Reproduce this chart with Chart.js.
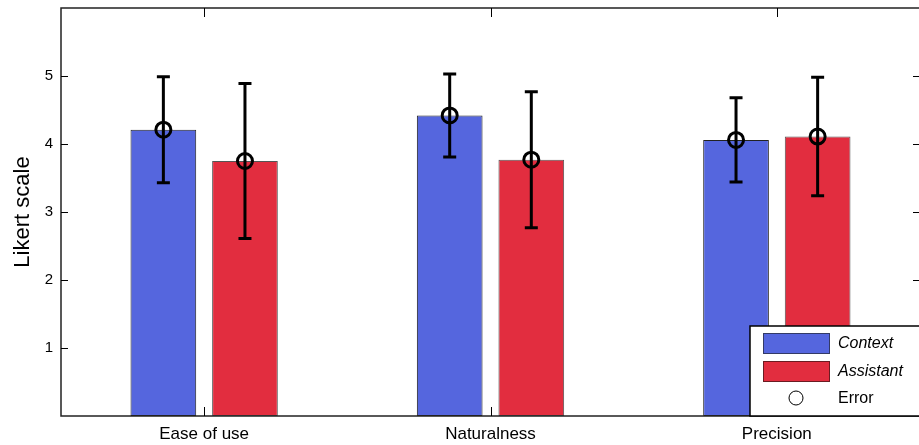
<!DOCTYPE html>
<html>
<head>
<meta charset="utf-8">
<script src="https://cdn.jsdelivr.net/npm/chart.js@4.4.1/dist/chart.umd.min.js"></script>
<style>
  html, body { margin: 0; padding: 0; background: #fff; overflow: hidden; }
  #wrap { width: 924px; height: 445px; }
</style>
</head>
<body>
<div id="wrap"><canvas id="likertChart" width="924" height="445"></canvas></div>
<script>
// ----------------------------
// DATA
// ----------------------------
const categories = ["Ease of use", "Naturalness", "Precision"];
const contextMeans = [4.21, 4.42, 4.06];
const contextErr = [0.78, 0.61, 0.62];
const assistantMeans = [3.75, 3.77, 4.11];
const assistantErr = [1.14, 1.0, 0.87];
const yTicks = [1, 2, 3, 4, 5];

const seriesNames = ["Context", "Assistant"];
const blue = "#5566de";
const red = "#e22d3f";
const fontFamily = "'Liberation Sans', Arial, sans-serif";

Chart.defaults.font.family = fontFamily;
Chart.defaults.color = "#111";

// ----------------------------
// PLUGIN: error bars, box, ticks, legend
// ----------------------------
const matlabLook = {
  id: "matlabLook",
  afterDatasetsDraw(chart) {
    const ctx = chart.ctx;
    const area = chart.chartArea;
    const yScale = chart.scales.y;
    const xScale = chart.scales.x;
    const errs = [contextErr, assistantErr];

    // error bars + circles
    ctx.save();
    ctx.strokeStyle = "#000";
    ctx.lineWidth = 3;
    chart.data.datasets.forEach((ds, di) => {
      const meta = chart.getDatasetMeta(di);
      meta.data.forEach((bar, i) => {
        const x = bar.x;
        const m = ds.data[i];
        const yTop = yScale.getPixelForValue(m + errs[di][i]);
        const yBot = yScale.getPixelForValue(m - errs[di][i]);
        const yMid = yScale.getPixelForValue(m);
        ctx.beginPath();
        ctx.moveTo(x, yTop);
        ctx.lineTo(x, yBot);
        ctx.moveTo(x - 6.5, yTop);
        ctx.lineTo(x + 6.5, yTop);
        ctx.moveTo(x - 6.5, yBot);
        ctx.lineTo(x + 6.5, yBot);
        ctx.stroke();
        ctx.beginPath();
        ctx.arc(x, yMid, 7.5, 0, Math.PI * 2);
        ctx.stroke();
      });
    });
    ctx.restore();

    // axes box
    ctx.save();
    ctx.strokeStyle = "#222";
    ctx.lineWidth = 1.5;
    ctx.strokeRect(area.left, area.top, area.right - area.left, area.bottom - area.top);

    // inward ticks
    ctx.lineWidth = 1;
    ctx.strokeStyle = "#000";
    ctx.beginPath();
    yTicks.forEach((v) => {
      const y = Math.round(yScale.getPixelForValue(v)) + 0.5;
      ctx.moveTo(area.left, y);
      ctx.lineTo(area.left + 7, y);
      ctx.moveTo(area.right, y);
      ctx.lineTo(area.right - 7, y);
    });
    categories.forEach((c, i) => {
      const x = Math.round(xScale.getPixelForValue(i)) + 0.5;
      ctx.moveTo(x, area.bottom);
      ctx.lineTo(x, area.bottom - 9);
      ctx.moveTo(x, area.top);
      ctx.lineTo(x, area.top + 9);
    });
    ctx.stroke();
    ctx.restore();

    // legend box
    ctx.save();
    const lx = 750, ly = 326;
    ctx.fillStyle = "#fff";
    ctx.fillRect(lx, ly, area.right - lx, area.bottom - ly);
    ctx.strokeStyle = "#000";
    ctx.lineWidth = 1.5;
    ctx.strokeRect(lx, ly, area.right - lx, area.bottom - ly);

    const swatches = [
      { fill: blue, stroke: "#333a66" },
      { fill: red, stroke: "#6a1c22" },
    ];
    ctx.font = "italic 16px " + fontFamily;
    ctx.textBaseline = "middle";
    ctx.textAlign = "left";
    swatches.forEach((s, i) => {
      const y = 333 + i * 28;
      ctx.fillStyle = s.fill;
      ctx.fillRect(763.5, y + 0.5, 66, 20);
      ctx.strokeStyle = s.stroke;
      ctx.lineWidth = 1;
      ctx.strokeRect(763.5, y + 0.5, 66, 20);
      ctx.fillStyle = "#000";
      ctx.fillText(seriesNames[i], 838, y + 11);
    });
    ctx.beginPath();
    ctx.strokeStyle = "#000";
    ctx.lineWidth = 1;
    ctx.arc(796, 398, 7, 0, Math.PI * 2);
    ctx.stroke();
    ctx.font = "16px " + fontFamily;
    ctx.fillText("Error", 838, 399);
    ctx.restore();
  },
};

// ----------------------------
// CHART
// ----------------------------
new Chart(document.getElementById("likertChart"), {
  type: "bar",
  data: {
    labels: categories,
    datasets: [
      {
        label: seriesNames[0],
        data: contextMeans,
        backgroundColor: blue,
        borderColor: "#222",
        borderWidth: 1,
        borderSkipped: false,
        categoryPercentage: 0.57,
        barPercentage: 0.805,
      },
      {
        label: seriesNames[1],
        data: assistantMeans,
        backgroundColor: red,
        borderColor: "#555",
        borderWidth: 1,
        borderSkipped: false,
        categoryPercentage: 0.57,
        barPercentage: 0.805,
      },
    ],
  },
  options: {
    responsive: false,
    animation: false,
    layout: { padding: { top: 8, right: 4, left: 0, bottom: 0 } },
    plugins: {
      legend: { display: false },
      tooltip: { enabled: false },
    },
    scales: {
      x: {
        grid: { display: false, drawTicks: false },
        border: { display: false },
        ticks: { padding: 8, font: { size: 17 }, color: "#000" },
        afterFit(scale) {
          scale.height = 29;
          scale.paddingLeft = 0;
          scale.paddingRight = 0;
        },
      },
      y: {
        min: 0,
        max: 6,
        grid: { display: false, drawTicks: false },
        border: { display: false },
        afterBuildTicks(scale) {
          scale.ticks = [0, ...yTicks, 6].map((v) => ({ value: v }));
        },
        ticks: {
          padding: 8,
          font: { size: 15 },
          color: "#000",
          callback: (v) => (yTicks.includes(v) ? String(v) : ""),
        },
        title: {
          display: true,
          text: "Likert scale",
          font: { size: 22 },
          color: "#000",
          padding: { top: 10, bottom: 0 },
        },
        afterFit(scale) {
          scale.width = 61;
          scale.paddingTop = 0;
          scale.paddingBottom = 0;
        },
      },
    },
  },
  plugins: [matlabLook],
});
</script>
</body>
</html>
